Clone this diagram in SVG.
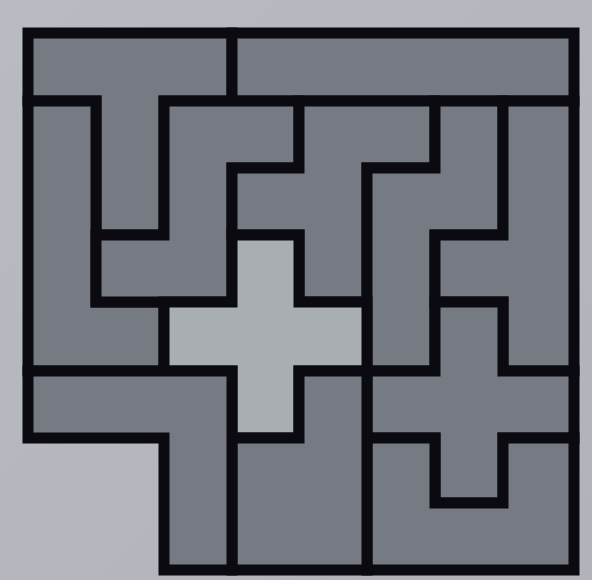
<svg xmlns="http://www.w3.org/2000/svg" width="592" height="580" viewBox="0 0 592 580">
  <defs>
    <linearGradient id="bg" x1="0" y1="0" x2="1" y2="1">
      <stop offset="0" stop-color="#b8bcc2"/>
      <stop offset="1" stop-color="#b0b4ba"/>
    </linearGradient>
  </defs>
  <style>
    .pc { fill: #767b83; stroke: #0b0a10; stroke-width: 11; stroke-linejoin: miter; }
    .lt { fill: #a9aeb3; stroke: #0b0a10; stroke-width: 11; stroke-linejoin: miter; }
  </style>
  <rect x="0" y="0" width="592" height="580" fill="url(#bg)"/>
  <g id="piece-T"><polygon class="pc" points="28,33 232,33 232,101 164,101 164,235 96,235 96,101 28,101"/></g>
  <g id="piece-I"><polygon class="pc" points="232,33 574,33 574,101 232,101"/></g>
  <g id="piece-L"><polygon class="pc" points="28,101 96,101 96,302 164,302 164,371 28,371"/></g>
  <g id="piece-Z"><polygon class="pc" points="164,101 299,101 299,168 232,168 232,302 96,302 96,235 164,235"/></g>
  <g id="piece-F"><polygon class="pc" points="299,101 435,101 435,168 367,168 367,302 299,302 299,235 232,235 232,168 299,168"/></g>
  <g id="piece-N"><polygon class="pc" points="435,101 503,101 503,235 435,235 435,371 367,371 367,168 435,168"/></g>
  <g id="piece-Y"><polygon class="pc" points="503,101 574,101 574,371 503,371 503,302 435,302 435,235 503,235"/></g>
  <g id="piece-X-light"><polygon class="lt" points="232,235 299,235 299,302 367,302 367,371 299,371 299,438 232,438 232,371 164,371 164,302 232,302"/></g>
  <g id="piece-X-right"><polygon class="pc" points="435,302 503,302 503,371 574,371 574,438 503,438 503,503 435,503 435,438 367,438 367,371 435,371"/></g>
  <g id="piece-U"><polygon class="pc" points="367,438 435,438 435,503 503,503 503,438 574,438 574,570 367,570"/></g>
  <g id="piece-P"><polygon class="pc" points="299,371 367,371 367,570 232,570 232,438 299,438"/></g>
  <g id="piece-V"><polygon class="pc" points="28,371 232,371 232,570 164,570 164,438 28,438"/></g>
</svg>
